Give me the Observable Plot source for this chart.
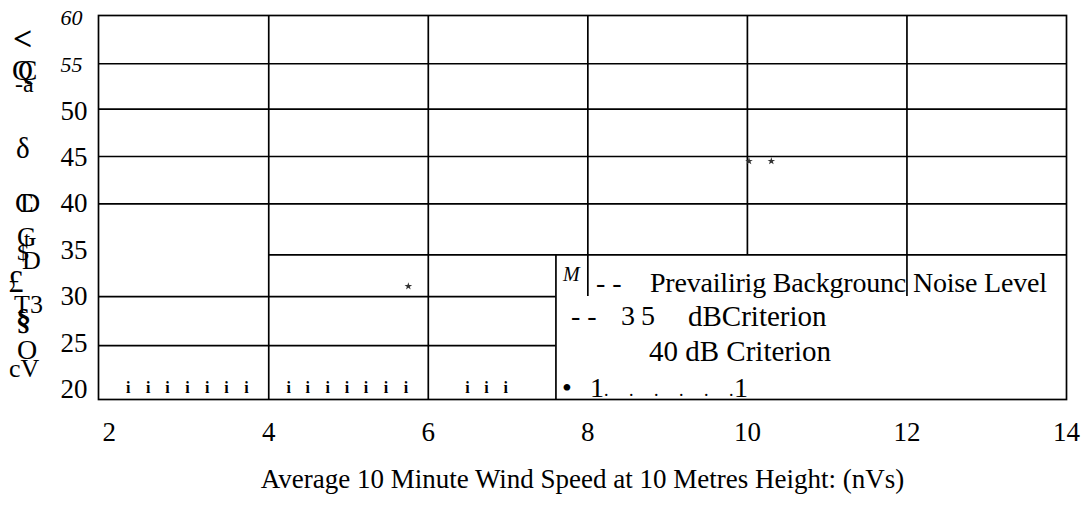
<!DOCTYPE html>
<html>
<head>
<meta charset="utf-8">
<script src="https://cdn.jsdelivr.net/npm/d3@7"></script>
<script src="https://cdn.jsdelivr.net/npm/@observablehq/plot@0.6"></script>
<style>
  html, body { margin: 0; padding: 0; background: #fff; }
  #wrap { position: relative; width: 1086px; height: 506px; font-family: "Liberation Serif", "Times New Roman", serif; color: #000; }
  .ov { position: absolute; white-space: pre; line-height: 1; }
</style>
</head>
<body>
<div id="wrap"></div>
<script>
// ---- data ----
const xTicks = [2, 4, 6, 8, 10, 12, 14];
const yTicksNormal = [20, 25, 30, 35, 40, 45, 50];
const yTicksItalic = [55, 60];
const xTitle = "Average 10 Minute Wind Speed at 10 Metres Height: (nVs)";

// grid levels as drawn in the picture
const fullGridY = [55.1, 50.2, 45.1, 40];
const upperGridY = [34.5];          // runs from x=4 to the right edge
const lowerGridY = [30, 24.7];      // runs from the left edge to the legend box
const fullGridX = [4, 6];
const midGridX = [8, 12];           // reach down into the legend's first row
const shortGridX = [10];            // stop at the legend box top
const legendLeftX = [7.6];

// scattered star points
const starX = [5.75, 10.02, 10.3];
const starY = [31.1, 44.6, 44.6];

// dotted "i" markers along the bottom
const iMarksX = [2.24, 2.49, 2.73, 2.98, 3.23, 3.47, 3.72,
                 4.25, 4.49, 4.74, 4.98, 5.22, 5.47, 5.72,
                 6.49, 6.73, 6.97];
const iMarksY = 20.2;

// legend rows
const legendRows = [
  ["M", "- -", "Prevailirig Backgrounc Noise Level"],
  ["- -", "3", "5", "dBCriterion"],
  ["40 dB Criterion"],
  ["•", "1", "1"]
];
// garbled y-axis title fragments (top to bottom)
const yTitleBits = ["<", "Q", "C", "-a", "δ", "C", "D", "G", "t", "D", "$", "£", "T3", "§", "O", "cV"];

const xDomain = [1.866, 14];
const yDomain = [18.9, 60.3];
const stars = starX.map((x, i) => ({x, y: starY[i]}));
const iMarks = iMarksX.map(x => ({x, y: iMarksY}));

const SW = 1.7;
const chart = Plot.plot({
  width: 1086,
  height: 506,
  marginLeft: 98,
  marginRight: 20,
  marginTop: 15,
  marginBottom: 107,
  x: {domain: xDomain, axis: null},
  y: {domain: yDomain, axis: null},
  style: {fontFamily: "'Liberation Serif', 'Times New Roman', serif", background: "#fff", color: "#000"},
  marks: [
    Plot.ruleY(fullGridY, {stroke: "#000", strokeWidth: SW}),
    Plot.ruleY(upperGridY, {x1: 4, x2: xDomain[1], stroke: "#000", strokeWidth: SW}),
    Plot.ruleY(lowerGridY, {x1: xDomain[0], x2: legendLeftX[0], stroke: "#000", strokeWidth: SW}),
    Plot.ruleX(fullGridX, {stroke: "#000", strokeWidth: SW}),
    Plot.ruleX(midGridX, {y1: 30, y2: yDomain[1], stroke: "#000", strokeWidth: SW}),
    Plot.ruleX(shortGridX, {y1: upperGridY[0], y2: yDomain[1], stroke: "#000", strokeWidth: SW}),
    Plot.ruleX(legendLeftX, {y1: yDomain[0], y2: upperGridY[0], stroke: "#000", strokeWidth: SW}),
    Plot.frame({stroke: "#000", strokeWidth: SW}),
    Plot.dot(stars, {x: "x", y: "y", symbol: "star", r: 2.4, fill: "#333", stroke: null}),
    Plot.text(iMarks, {x: "x", y: "y", text: () => "i", fontSize: 16, fill: "#000", fontWeight: "bold"}),
    Plot.text(yTicksNormal, {y: d => d, frameAnchor: "left", dx: -11, textAnchor: "end", text: d => String(d), fontSize: 27}),
    Plot.text(yTicksItalic, {y: d => d, frameAnchor: "left", dx: -16, textAnchor: "end", text: d => String(d), fontSize: 22, fontStyle: "italic"}),
    Plot.text(xTicks, {x: d => d, frameAnchor: "bottom", dy: 41, text: d => String(d), fontSize: 27}),
    Plot.text([xTitle], {frameAnchor: "bottom", dy: 88, text: d => d, fontSize: 27})
  ]
});

const wrap = document.getElementById("wrap");
wrap.appendChild(chart);

function put(txt, left, top, size, extra) {
  const s = document.createElement("div");
  s.className = "ov";
  s.textContent = txt;
  s.style.left = left + "px";
  s.style.top = top + "px";
  s.style.fontSize = size + "px";
  if (extra) Object.assign(s.style, extra);
  wrap.appendChild(s);
}
// legend
put(legendRows[0][0], 563, 264, 20, {fontStyle: "italic"});
put(legendRows[0][1], 596, 269, 28);
put(legendRows[0][2], 650, 269, 28, {letterSpacing: "-0.2px"});
put(legendRows[1][0], 571, 302, 28);
put(legendRows[1][1], 621, 302, 28);
put(legendRows[1][2], 641, 302, 28);
put(legendRows[1][3], 688, 302, 29);
put(legendRows[2][0], 649, 337, 29);
put(legendRows[3][0], 562, 374, 28);
put(legendRows[3][1], 590, 374, 28);
put(legendRows[3][2], 734, 374, 28);
put(". . . . . .", 604, 381, 18, {letterSpacing: "8px"});
// garbled y title
put(yTitleBits[0], 13, 22, 34, {fontWeight: "bold"});
put(yTitleBits[1], 12, 56, 29);
put(yTitleBits[2], 18, 56, 29);
put(yTitleBits[3], 15, 72, 24);
put(yTitleBits[4], 16, 134, 29);
put(yTitleBits[5], 15, 189, 28);
put(yTitleBits[6], 20, 189, 28);
put(yTitleBits[7], 17, 224, 27);
put(yTitleBits[8], 24, 228, 22);
put(yTitleBits[9], 22, 248, 26);
put(yTitleBits[10], 17, 240, 24);
put(yTitleBits[11], 8, 266, 31);
put(yTitleBits[12], 14, 292, 26);
put(yTitleBits[13], 16, 305, 30, {fontWeight: "bold"});
put(yTitleBits[14], 17, 336, 28);
put(yTitleBits[15], 9, 356, 26);
</script>
</body>
</html>
